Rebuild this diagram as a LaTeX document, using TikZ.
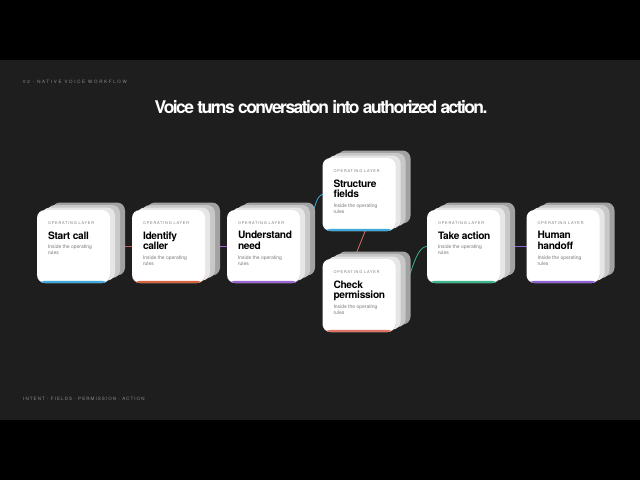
\documentclass[tikz,border=0pt]{standalone}
\usepackage{fontspec}
\setmainfont{TeX Gyre Heros}
\newfontfamily\dotfont{DejaVu Sans}
\newcommand\mdot{{\dotfont ·}}
\definecolor{bgdark}{HTML}{1E1E1E}
\definecolor{layerA}{HTML}{E6E6E6}
\definecolor{layerB}{HTML}{C8C8C8}
\definecolor{layerC}{HTML}{A2A2A2}
\definecolor{cblue}{HTML}{3FA9DC}
\definecolor{corange}{HTML}{D8643F}
\definecolor{cpurple}{HTML}{9A66D4}
\definecolor{csalmon}{HTML}{DC7565}
\definecolor{cgreen}{HTML}{3FB58A}
\definecolor{cpurpleb}{HTML}{8F61D2}
\definecolor{cline}{HTML}{C9585A}
\definecolor{meta}{HTML}{8E8E8E}
\definecolor{subgrey}{HTML}{7A7A7A}
\tikzset{
  cardshape/.style={rounded corners=8pt, minimum width=73pt, minimum height=73pt, inner sep=0pt},
  cardback/.style={cardshape},
  cardfront/.style={cardshape, fill=white},
  oplabel/.style={inner sep=0pt, text=subgrey, font={\fontsize{3.8}{4}\selectfont\addfontfeature{LetterSpace=22}}},
  cardtitle/.style={inner sep=0pt, align=left, text=black, font={\fontsize{10.2}{10.5}\selectfont\bfseries\addfontfeature{LetterSpace=-3}}},
  cardsub/.style={inner sep=0pt, align=left, text=subgrey, font={\fontsize{5}{6.2}\selectfont}},
  metatext/.style={inner sep=0pt, text=meta},
  conn/.style={line width=0.8pt},
}
\newcommand\opcard[7]{% name, x, y, title, color, subtitle shift, dummy
  \foreach \k/\c in {3/layerC,2/layerB,1/layerA}{
    \node[cardback, fill=\c] at ({#2+5*\k},{#3-2.5*\k}) {};
  }
  \node[cardfront, path picture={\fill[#5] ([yshift=2.2pt]path picture bounding box.south west) rectangle (path picture bounding box.south east);}] (#1) at (#2,#3) {};
  \node[oplabel, anchor=west] at ([xshift=11pt, yshift=-13pt]#1.north west) {OPERATING LAYER};
  \node[cardtitle, anchor=north west] at ([xshift=11pt, yshift=-21.5pt]#1.north west) {#4};
  \node[cardsub, anchor=north west] at ([xshift=11pt, yshift=-#6pt]#1.north west) {Inside the operating\\rules};
}
\begin{document}
\begin{tikzpicture}[x=1pt, y=-1pt]
\useasboundingbox (0,0) rectangle (640,480);
\fill[black] (0,0) rectangle (640,480);
\fill[bgdark] (0,60) rectangle (640,420);
\node[metatext, anchor=west, font={\fontsize{4.5}{5}\selectfont\addfontfeature{LetterSpace=38}}] (hdr) at (23,82) {02 \mdot{} NATIVE VOICE WORKFLOW};
\node[metatext, anchor=west, font={\fontsize{4.5}{5}\selectfont\addfontfeature{LetterSpace=24}}] (ftr) at (23,398.5) {INTENT \mdot{} FIELDS \mdot{} PERMISSION \mdot{} ACTION};
\node[inner sep=0pt, text=white, anchor=base, font={\fontsize{17.5}{18}\selectfont\bfseries\addfontfeature{LetterSpace=-9}}] (title) at (321,113) {Voice turns conversation into authorized action.};
% connector anchor points (cards drawn after connectors)
\coordinate (p1) at (73.5,246.5);
\coordinate (p2) at (168.5,246.5);
\coordinate (p3) at (263.5,246.5);
\coordinate (p4e) at (323,194.5);
\coordinate (p5e) at (323,295.5);
\coordinate (p6) at (463.5,246.5);
\coordinate (p7) at (563,246.5);
\coordinate (p3r) at (300,246.5);
\coordinate (p6l) at (427,246.5);
\coordinate (p5r) at (395,295.5);
\coordinate (p4b) at (366,229);
\coordinate (p5t) at (354,259);
\draw[conn, cline] (p1) -- (p2);
\draw[conn, cpurple] (p2) -- (p3);
\draw[conn, cblue] (p3r) .. controls (312,246.5) and (311,194.5) .. (p4e);
\draw[conn, csalmon] (p4b) -- (p5t);
\draw[conn, cgreen] (p5r) .. controls (410,295.5) and (412,246.5) .. (p6l);
\draw[conn, cpurpleb] (p6) -- (p7);
\opcard{s1}{73.5}{246.5}{Start call}{cblue}{35}{}
\opcard{s2}{168.5}{246.5}{Identify\\caller}{corange}{45.5}{}
\opcard{s3}{263.5}{246.5}{Understand\\need}{cpurple}{45.5}{}
\opcard{s4}{359}{194.5}{Structure\\fields}{cblue}{45.5}{}
\opcard{s5}{359}{295.5}{Check\\permission}{csalmon}{45.5}{}
\opcard{s6}{463.5}{246.5}{Take action}{cgreen}{35}{}
\opcard{s7}{563}{246.5}{Human\\handoff}{cpurpleb}{45.5}{}
\end{tikzpicture}
\end{document}
